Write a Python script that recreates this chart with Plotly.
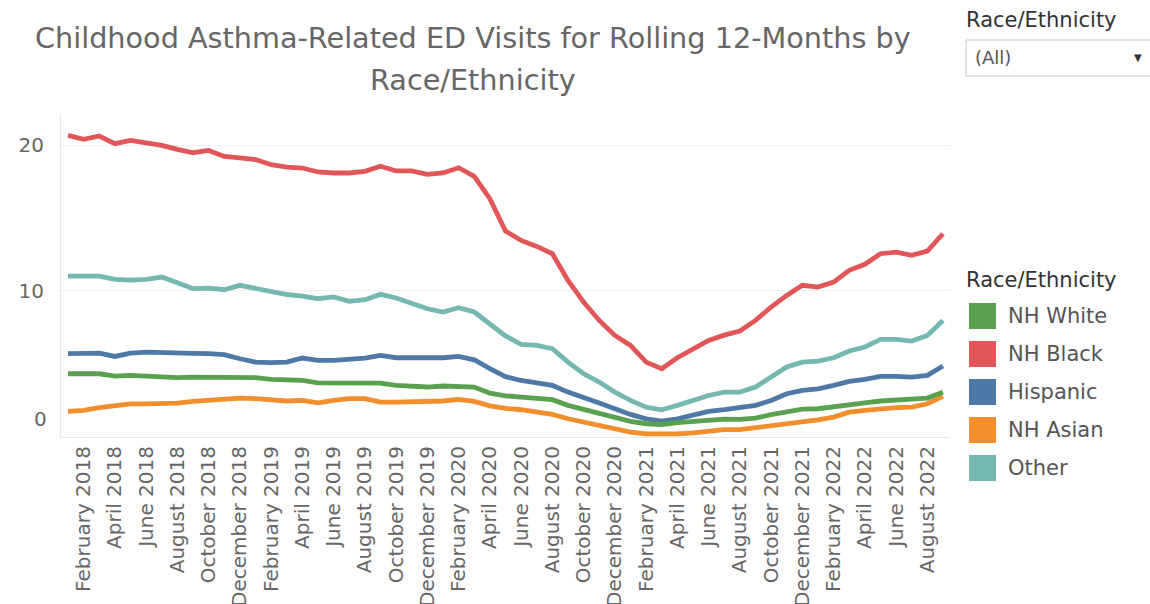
import pandas as pd
import plotly.graph_objects as go

# Monthly periods (rolling 12-month windows ending in each month)
months = pd.date_range("2018-01-01", "2022-09-01", freq="MS").strftime("%B %Y").tolist()

series_names = ["NH White", "NH Black", "Hispanic", "NH Asian", "Other"]
series_colors = ["#59A14F", "#E15759", "#4E79A7", "#F28E2B", "#76B7B2"]

nh_white = [
    4.30, 4.30, 4.30, 4.14, 4.19, 4.14, 4.07, 4.03, 4.07, 4.07,
    4.03, 4.00, 4.03, 3.91, 3.85, 3.84, 3.68, 3.68, 3.73, 3.73,
    3.66, 3.50, 3.43, 3.39, 3.46, 3.46, 3.39, 2.97, 2.79, 2.70,
    2.59, 2.52, 2.13, 1.85, 1.56, 1.26, 1.03, 0.87, 0.82, 0.94,
    1.05, 1.14, 1.19, 1.17, 1.26, 1.49, 1.72, 1.88, 1.90, 2.01,
    2.20, 2.31, 2.43, 2.47, 2.52, 2.63, 3.04,
]
nh_black = [
    20.66, 20.39, 20.62, 20.09, 20.32, 20.16, 19.98, 19.70, 19.47, 19.63,
    19.22, 19.11, 19.00, 18.65, 18.48, 18.42, 18.15, 18.08, 18.08, 18.19,
    18.54, 18.22, 18.22, 17.99, 18.08, 18.44, 17.85, 16.32, 14.10, 13.45,
    13.04, 12.54, 10.71, 9.22, 7.96, 6.93, 6.25, 5.10, 4.65, 5.40,
    6.02, 6.59, 6.95, 7.23, 7.96, 8.88, 9.68, 10.37, 10.25, 10.59,
    11.40, 11.81, 12.54, 12.65, 12.43, 12.72, 13.91,
]
hispanic = [
    5.68, 5.72, 5.72, 5.49, 5.72, 5.79, 5.74, 5.70, 5.70, 5.68,
    5.61, 5.33, 5.10, 5.06, 5.10, 5.38, 5.22, 5.22, 5.29, 5.38,
    5.56, 5.40, 5.40, 5.40, 5.40, 5.49, 5.26, 4.65, 4.10, 3.84,
    3.68, 3.50, 3.04, 2.70, 2.29, 1.90, 1.51, 1.21, 1.05, 1.21,
    1.44, 1.72, 1.84, 1.97, 2.13, 2.47, 2.93, 3.16, 3.27, 3.50,
    3.78, 3.91, 4.12, 4.12, 4.07, 4.19, 4.83,
]
nh_asian = [
    1.72, 1.78, 1.97, 2.13, 2.24, 2.24, 2.24, 2.29, 2.40, 2.47,
    2.52, 2.63, 2.59, 2.52, 2.43, 2.47, 2.31, 2.47, 2.59, 2.59,
    2.36, 2.36, 2.36, 2.40, 2.43, 2.54, 2.40, 2.10, 1.92, 1.83,
    1.67, 1.51, 1.21, 0.98, 0.76, 0.53, 0.30, 0.18, 0.14, 0.18,
    0.25, 0.37, 0.46, 0.46, 0.59, 0.76, 0.92, 1.03, 1.14, 1.33,
    1.67, 1.78, 1.90, 1.97, 2.01, 2.24, 2.75,
]
other = [
    11.00, 11.00, 11.00, 10.78, 10.73, 10.78, 10.94, 10.55, 10.14, 10.18,
    10.07, 10.37, 10.18, 9.91, 9.74, 9.63, 9.45, 9.57, 9.27, 9.38,
    9.75, 9.50, 9.11, 8.76, 8.54, 8.83, 8.54, 7.69, 6.90, 6.32,
    6.25, 6.02, 5.10, 4.30, 3.73, 3.04, 2.47, 2.01, 1.83, 2.13,
    2.47, 2.81, 3.04, 3.04, 3.39, 4.07, 4.76, 5.10, 5.17, 5.40,
    5.86, 6.13, 6.66, 6.66, 6.54, 6.93, 7.96,
]

series_values = [nh_white, nh_black, hispanic, nh_asian, other]
y_ticks = [10, 20]

FONT = "DejaVu Sans"
TEXT_GREY = "#666666"

fig = go.Figure()

# draw order: Other, NH Black, Hispanic, NH Asian, NH White
for idx in [4, 1, 2, 3, 0]:
    fig.add_trace(go.Scatter(
        x=months, y=series_values[idx], name=series_names[idx],
        mode="lines", line=dict(color=series_colors[idx], width=4.8),
        showlegend=False,
    ))

fig.update_layout(
    width=1150, height=604,
    margin=dict(l=61, r=200, t=115, b=167),
    paper_bgcolor="white", plot_bgcolor="white",
    font=dict(family=FONT, color=TEXT_GREY),
)

fig.update_xaxes(
    type="category", range=[-0.45, len(months) - 0.55],
    tickvals=months[1::2], ticktext=months[1::2],
    tickangle=-90, tickfont=dict(size=20, color=TEXT_GREY, family=FONT),
    showgrid=False, showline=True, linecolor="#e6e6e6", linewidth=1,
    ticks="", automargin=False,
)
fig.update_yaxes(
    range=[-0.04, 22.06], tickvals=y_ticks,
    tickfont=dict(size=20, color=TEXT_GREY, family=FONT),
    showgrid=True, gridcolor="#efefef", gridwidth=1,
    zeroline=False, showline=True, linecolor="#e6e6e6", linewidth=1,
    ticks="", ticklabelstandoff=12, automargin=False,
)

annotations = []
# the zero label sits just above the bottom edge of the plot
annotations.append(dict(
    text="0", xref="paper", x=0, xanchor="right", xshift=-12,
    yref="y", y=0, yanchor="middle", yshift=17,
    showarrow=False, font=dict(size=20, color=TEXT_GREY, family=FONT),
))

# pixel helpers relative to the plot area (61..950 x 115..437)
px_x = lambda px: (px - 61) / 889
px_y = lambda py: (437 - py) / 322

# two-line chart title
title_lines = ["Childhood Asthma-Related ED Visits for Rolling 12-Months by",
               "Race/Ethnicity"]
for i, line in enumerate(title_lines):
    annotations.append(dict(
        text=line, xref="paper", x=px_x(473), xanchor="center",
        yref="paper", y=px_y(38 + 42 * i), yanchor="middle",
        showarrow=False, font=dict(size=28.7, color="#666666", family=FONT),
    ))

# filter control header and dropdown
annotations.append(dict(
    text="Race/Ethnicity", xref="paper", x=px_x(964), xanchor="left",
    yref="paper", y=px_y(20), yanchor="middle", showarrow=False,
    font=dict(size=21, color="#333333", family=FONT),
))
annotations.append(dict(
    text="(All)", xref="paper", x=px_x(973), xanchor="left",
    yref="paper", y=px_y(58), yanchor="middle", showarrow=False,
    font=dict(size=18, color="#555555", family=FONT),
))
annotations.append(dict(
    text="▼", xref="paper", x=px_x(1138), xanchor="center",
    yref="paper", y=px_y(58), yanchor="middle", showarrow=False,
    font=dict(size=10, color="#333333", family=FONT),
))

shapes = [dict(
    type="rect", xref="paper", yref="paper",
    x0=px_x(966), x1=px_x(1160), y0=px_y(76), y1=px_y(40),
    line=dict(color="#c8c8c8", width=1), fillcolor="white", layer="above",
)]

# colour legend
annotations.append(dict(
    text="Race/Ethnicity", xref="paper", x=px_x(964), xanchor="left",
    yref="paper", y=px_y(280), yanchor="middle", showarrow=False,
    font=dict(size=21, color="#333333", family=FONT),
))
for i, (name, color) in enumerate(zip(series_names, series_colors)):
    cy = 316 + 38 * i
    shapes.append(dict(
        type="rect", xref="paper", yref="paper",
        x0=px_x(969), x1=px_x(996), y0=px_y(cy + 13), y1=px_y(cy - 13),
        line=dict(width=0), fillcolor=color, layer="above",
    ))
    annotations.append(dict(
        text=name, xref="paper", x=px_x(1006), xanchor="left",
        yref="paper", y=px_y(cy), yanchor="middle", showarrow=False,
        font=dict(size=21, color="#555555", family=FONT),
    ))

fig.update_layout(annotations=annotations, shapes=shapes)

fig.write_html("out.html")
